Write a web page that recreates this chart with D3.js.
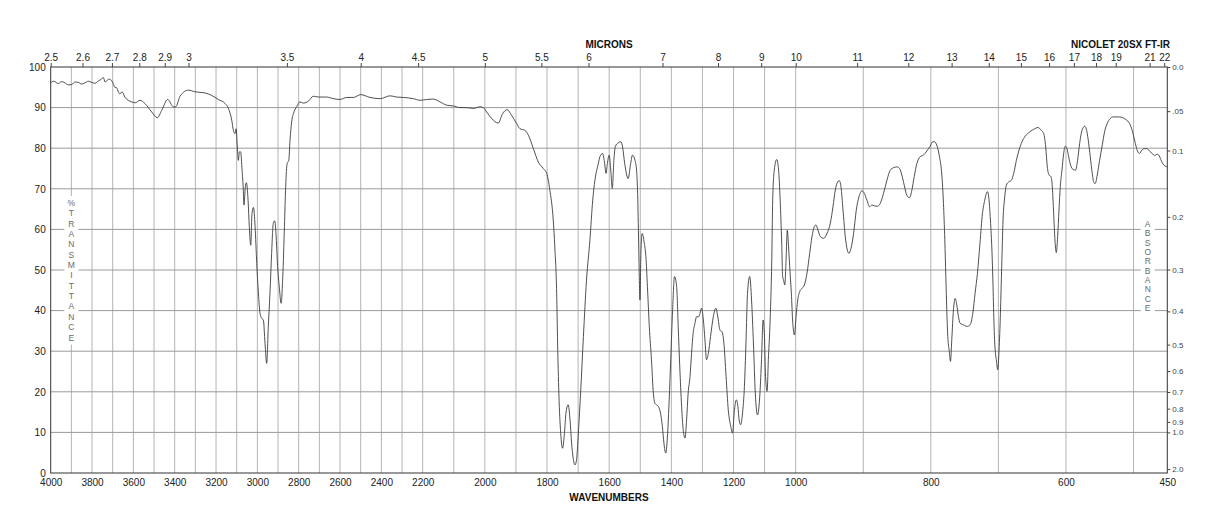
<!DOCTYPE html>
<html><head><meta charset="utf-8">
<script src="https://cdn.jsdelivr.net/npm/d3@7"></script>
<style>
body{margin:0;background:#fff;}
svg{display:block;font-family:"Liberation Sans",Arial,Helvetica,sans-serif;}
</style></head><body>
<svg id="c" width="1218" height="528"></svg>
<script>
// ---- data (wavenumber in cm-1, % transmittance) ----
const wavenumber = [
4000,3985,3963,3948,3931,3915,3898,3882,3866,3850,3834,3818,3802,3785,3769,3757,3745,3737,3729,3717,
3705,3697,3690,3681,3672,3665,3655,3640,3625,3608,3590,3568,3544,3511,3484,3463,3434,3406,3395,3374,
3334,3302,3253,3221,3189,3156,3140,3124,3116,3108,3103,3097,3092,3087,3081,3074,3068,3065,3058,3053,
3045,3039,3032,3026,3019,3011,3003,2995,2987,2979,2971,2963,2955,2947,2939,2931,2923,2916,2910,2902,
2894,2885,2877,2869,2863,2856,2848,2842,2834,2823,2810,2794,2777,2753,2729,2705,2665,2632,2600,2568,
2535,2500,2455,2406,2358,2326,2294,2245,2213,2187,2166,2144,2123,2101,2080,2059,2037,2016,2005,1994,
1978,1957,1943,1928,1914,1898,1887,1871,1860,1844,1828,1812,1801,1791,1780,1775,1769,1766,1762,1756,
1750,1744,1739,1732,1726,1721,1716,1710,1705,1698,1692,1683,1673,1662,1653,1646,1635,1630,1621,1616,
1610,1606,1600,1595,1590,1585,1580,1571,1562,1557,1550,1539,1531,1525,1517,1512,1508,1505,1501,1498,
1494,1487,1482,1477,1471,1464,1458,1453,1448,1442,1435,1429,1424,1418,1412,1407,1402,1396,1390,1383,
1378,1373,1367,1362,1356,1351,1346,1340,1335,1330,1324,1319,1312,1308,1303,1297,1292,1287,1281,1274,
1265,1257,1249,1244,1237,1231,1224,1217,1209,1203,1198,1191,1186,1182,1177,1171,1165,1160,1155,1148,
1142,1136,1130,1123,1115,1110,1105,1101,1097,1092,1088,1083,1077,1074,1069,1061,1055,1050,1045,1042,
1039,1035,1031,1027,1023,1018,1014,1010,1004,999.5,997,994,990.6,987.2,983.3,979.3,975.9,972.4,970,967,
963.5,958.6,953.7,948.8,944.8,941.4,937.9,935.5,933,930,926.6,923.6,921.2,918.2,914.3,910.3,906.4,902,898.5,894.6,
890.6,887.2,883.3,878.8,874.9,870,865,860.1,855.2,850.2,846.3,842.9,839.4,835.5,831.5,828,824.6,820.7,815.8,810.8,
805.9,801,797,794.6,791.1,787.2,783.7,781.3,779.3,777.8,776.4,774.9,772.9,770.9,769,766.5,764,761.6,759.1,756.7,
751.7,746.8,741.9,737.9,734.5,731,727.3,723.6,720.2,717.7,716.3,714.3,711.8,709.4,707.9,706.4,704.4,703,701,699,
697,695.1,693.1,690.6,688.2,684.7,680.8,677.3,673.4,669.5,665,660.1,653.7,646.3,641.4,636.5,633,630,627.6,625.1,
622.2,620.2,618.2,616.3,614.3,612.3,610.3,608.4,605.9,603.4,601,598.5,596,593.1,589.7,585.7,582.8,579.8,575.9,572.4,
570,567,564,561.1,558.6,556.7,553.7,550.2,546.3,542.9,538.9,534.5,530.5,525.6,520.7,515.8,510.8,505.9,502,498.5,
496,493.6,491.1,487.7,483.7,480.3,476.4,472.4,468.5,465.5,462.6,459.6,456.7,453.2,450
];
const transmittance = [
96.1,96.5,95.9,96.4,96.1,95.6,95.7,96.3,96.2,95.8,96.1,96.5,96.2,96.0,96.6,96.9,97.4,96.3,96.6,97.0,
96.6,95.9,95.0,94.9,93.8,93.4,93.9,92.5,91.8,91.4,91.2,91.8,91.0,88.9,87.5,89.3,92.0,90.2,90.2,92.8,
94.3,93.9,93.6,93.0,92.0,91.0,89.8,86.9,84.4,83.6,84.8,80.3,77.0,79.1,79.1,74.6,69.7,66.0,70.5,71.5,
67.2,60.7,56.1,63.9,65.4,60.7,51.6,44.3,39.3,38.1,37.7,32.0,27.0,36.1,44.3,54.1,61.5,62.1,59.0,50.8,
45.9,41.8,48.4,60.7,70.5,76.2,77.0,82.0,86.5,88.9,90.2,91.4,91.1,91.6,92.8,92.6,92.6,92.2,92.0,92.5,
92.5,93.2,92.5,92.2,92.9,92.6,92.5,92.2,91.8,92.0,92.1,91.4,90.6,90.4,90.0,90.0,89.8,90.2,90.0,88.9,
87.3,86.2,88.5,89.5,88.1,86.1,84.8,84.4,83.2,79.9,76.6,75.0,73.8,69.7,62.3,55.7,44.3,32.0,19.7,9.8,
6.1,9.8,14.8,16.8,13.1,7.4,3.7,2.0,3.3,11.5,19.7,33.6,47.5,57.4,67.2,72.1,76.2,77.9,78.7,77.0,
73.8,76.2,78.3,74.6,70.1,77.0,80.5,81.3,81.6,80.3,76.2,72.5,76.2,78.3,77.0,74.6,67.2,55.7,42.6,54.1,
59.0,56.6,53.3,45.9,36.1,27.9,19.7,17.2,16.8,16.4,14.8,11.5,7.4,4.9,9.8,18.0,27.9,40.2,48.4,45.9,
36.1,26.2,16.4,10.7,8.6,13.1,19.7,23.8,29.5,34.4,36.9,38.5,38.5,39.3,40.6,37.7,32.8,27.9,29.5,33.6,
38.5,40.6,37.7,35.2,34.8,32.0,23.8,15.6,11.5,9.8,14.8,18.0,16.4,13.1,11.9,14.8,21.3,32.0,44.3,48.4,
42.6,32.0,19.7,14.3,19.7,27.9,37.7,34.4,23.8,20.1,27.9,36.1,52.5,67.2,74.6,77.2,74.6,67.2,56.6,48.4,
47.5,46.3,52.5,59.8,55.7,49.2,44.3,37.7,34.0,38.5,42.6,44.7,45.5,46.3,49.2,54.1,58.2,60.7,61.1,59.8,
58.2,57.8,59.0,61.5,65.6,69.7,71.7,72.0,70.5,64.8,58.2,54.9,54.1,55.3,59.0,64.8,68.0,69.5,68.9,67.2,
65.6,66.0,65.8,65.7,66.4,68.9,72.1,74.6,75.2,75.4,75.0,73.4,70.9,68.4,67.8,69.7,73.0,76.2,77.9,78.3,
79.3,80.5,81.6,81.6,80.7,77.9,73.4,66.4,57.4,48.4,40.2,33.6,30.3,27.5,32.8,40.2,43.0,41.4,38.5,36.9,
36.5,36.1,36.5,39.3,44.3,49.2,56.5,63.9,67.2,68.9,69.3,68.0,62.3,54.1,45.9,36.1,29.5,27.9,25.4,30.3,
39.3,50.8,62.3,68.0,70.9,71.7,72.1,73.8,77.0,79.5,81.6,83.0,84.0,84.8,85.1,84.4,83.6,80.3,75.4,73.4,
73.0,70.5,63.9,57.4,54.3,58.2,64.8,70.5,74.6,78.7,80.5,79.9,77.9,75.8,74.8,74.6,77.0,81.1,84.6,85.4,
84.8,82.0,77.9,73.8,71.5,71.3,73.4,77.0,80.7,84.0,86.1,87.3,87.7,87.7,87.7,87.5,87.0,86.1,84.4,82.0,
80.3,79.1,78.7,79.5,79.9,79.9,79.3,78.7,78.2,78.5,78.3,77.2,76.2,75.6,75.4
];
const wavenumberTicks = [4000,3800,3600,3400,3200,3000,2800,2600,2400,2200,2000,1800,1600,1400,1200,1000,800,600,450];
const micronTicks = [2.5,2.6,2.7,2.8,2.9,3,3.5,4,4.5,5,5.5,6,7,8,9,10,11,12,13,14,15,16,17,18,19,21,22];
const percentTicks = [0,10,20,30,40,50,60,70,80,90,100];
const absorbanceTicks = [0,0.05,0.1,0.2,0.3,0.4,0.5,0.6,0.7,0.8,0.9,1.0,2.0];
const absorbanceLabels = ["0.0",".05","0.1","0.2","0.3","0.4","0.5","0.6","0.7","0.8","0.9","1.0","2.0"];

// ---- layout ----
const svg = d3.select("#c");
const L = 50.7, R = 1167.3, T = 67, B = 473;
const x = d3.scaleLinear().domain([4000, 2200, 1000, 450]).range([L, 422.7, 795.7, R]);
const y = d3.scaleLinear().domain([0, 100]).range([B, T]);

// grid
const gV = d3.range(3900, 499, -100);
svg.append("g").selectAll("line").data(gV).join("line")
  .attr("x1", d => x(d)).attr("x2", d => x(d)).attr("y1", T).attr("y2", B)
  .attr("stroke", "#b4b4b4").attr("stroke-width", 1);
svg.append("g").selectAll("line").data(d3.range(10, 100, 10)).join("line")
  .attr("x1", L).attr("x2", R).attr("y1", d => y(d)).attr("y2", d => y(d))
  .attr("stroke", "#9a9a9a").attr("stroke-width", 1);

// vertical stacked labels with white boxes
function stacked(str, cx, y0, step) {
  const chars = str.split("");
  svg.append("rect").attr("x", cx - 7).attr("y", y0 - 7).attr("width", 14)
    .attr("height", step * (chars.length - 1) + 14).attr("fill", "#fff");
  svg.append("g").selectAll("text").data(chars).join("text")
    .attr("x", cx).attr("y", (d, i) => y0 + i * step).attr("dy", "0.35em")
    .attr("text-anchor", "middle").attr("font-size", 8.5).attr("fill", "#6a6a6a").text(d => d);
}
stacked("%TRANSMITTANCE", x(3900), 203, 10.35);
stacked("ABSORBANCE", 1147.7, 224, 9.35);

// spectrum
const pts = wavenumber.map((w, i) => [w, transmittance[i]]);
svg.append("path").datum(pts)
  .attr("fill", "none").attr("stroke", "#3c3c3c").attr("stroke-width", 0.9)
  .attr("stroke-linejoin", "round")
  .attr("d", d3.line().x(d => x(d[0])).y(d => y(d[1])).curve(d3.curveMonotoneX));

// frame
svg.append("rect").attr("x", L).attr("y", T).attr("width", R - L).attr("height", B - T)
  .attr("fill", "none").attr("stroke", "#333").attr("stroke-width", 1);

function styleAxis(g, size, color) {
  g.select(".domain").remove();
  g.selectAll("text").attr("font-size", size).attr("fill", color)
    .attr("font-family", "'Liberation Sans', Arial, sans-serif");
  g.selectAll(".tick line").attr("stroke", "#444");
}

// bottom axis
svg.append("g").attr("transform", `translate(0,${B})`)
  .call(d3.axisBottom(x).tickValues(wavenumberTicks).tickFormat(d3.format("d")).tickSize(0).tickPadding(6))
  .call(g => styleAxis(g, 10, "#222"));
// left axis
svg.append("g").attr("transform", `translate(${L},0)`)
  .call(d3.axisLeft(y).tickValues(percentTicks).tickSize(0).tickPadding(5))
  .call(g => styleAxis(g, 10, "#222"));
// top axis (microns)
svg.append("g").attr("transform", `translate(0,${T})`)
  .call(d3.axisTop(x).tickValues(micronTicks.map(m => 10000 / m))
    .tickFormat((d, i) => String(micronTicks[i])).tickSize(4).tickPadding(2))
  .call(g => styleAxis(g, 10, "#222"));
// right axis (absorbance)
svg.append("g").attr("transform", `translate(${R},0)`)
  .call(d3.axisRight(y).tickValues(absorbanceTicks.map(a => 100 * Math.pow(10, -a)))
    .tickFormat((d, i) => absorbanceLabels[i]).tickSize(3).tickPadding(2))
  .call(g => styleAxis(g, 8, "#444"));

// titles
svg.append("text").attr("x", (L + R) / 2).attr("y", 497).attr("dy", "0.35em")
  .attr("text-anchor", "middle").attr("font-size", 10).attr("font-weight", "bold").attr("fill", "#111").text("WAVENUMBERS");
svg.append("text").attr("x", (L + R) / 2).attr("y", 44).attr("dy", "0.35em")
  .attr("text-anchor", "middle").attr("font-size", 10).attr("font-weight", "bold").attr("fill", "#111").text("MICRONS");
svg.append("text").attr("x", 1170).attr("y", 44).attr("dy", "0.35em")
  .attr("text-anchor", "end").attr("font-size", 10).attr("font-weight", "bold").attr("fill", "#111").text("NICOLET 20SX FT-IR");
</script>
</body></html>
